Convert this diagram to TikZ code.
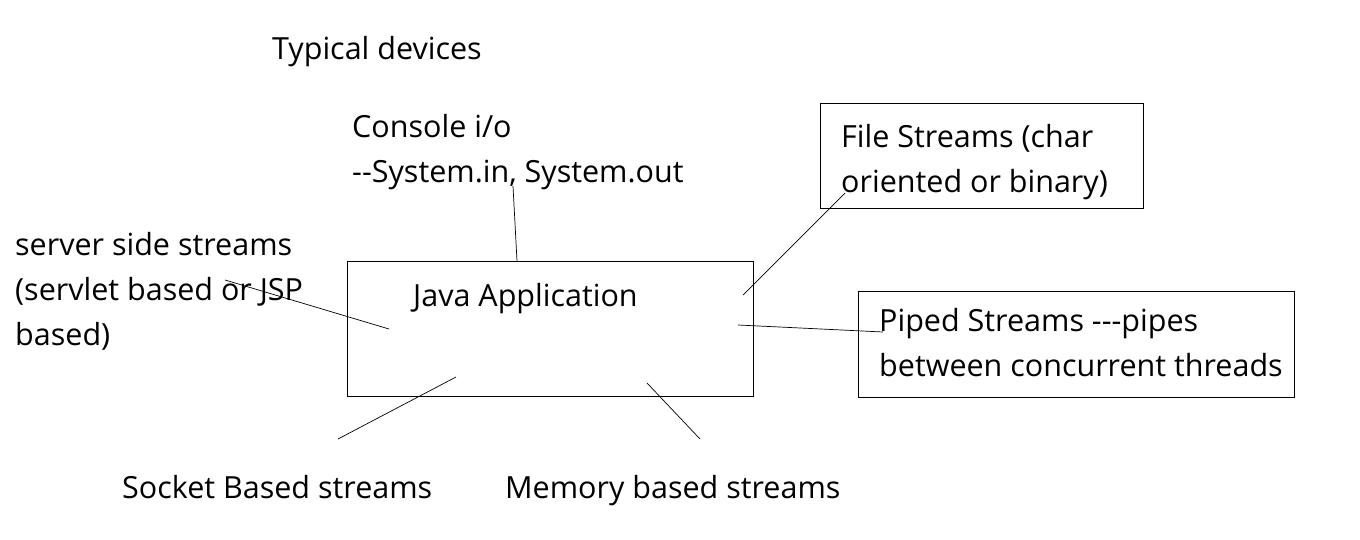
\documentclass[tikz,border=0pt]{standalone}
\usepackage{fontspec}
\setmainfont{Open Sans}[Ligatures=TeXOff]
\begin{document}
\begin{tikzpicture}[x=1pt,y=-1pt,
        box/.style={draw, line width=1pt, anchor=north west, inner sep=0pt},
        txt/.style={anchor=base west, inner sep=0pt, align=left, font=\fontsize{30.5}{45}\selectfont},
        link/.style={line width=0.7pt}]
        \useasboundingbox (0,0) rectangle (1360,540);
        \node[box, minimum width=406pt, minimum height=135pt] (java) at (347,261) {};
        \node[box, minimum width=323pt, minimum height=105pt] (file) at (820,103) {};
        \node[box, minimum width=436pt, minimum height=106pt] (piped) at (858,291) {};
        % base anchor of a multi-line node sits on its last line
        \node[txt] (typical) at (272,60) {Typical devices};
        \node[txt] (console) at (352,183) {Console i/o\\--System.in, System.out};
        \node[txt] (server) at (15,345) {server side streams\\(servlet based or JSP\\based)};
        \node[txt] (javatext) at (413,306) {Java Application};
        \node[txt] (filetext) at (841,193) {File Streams (char\\oriented or binary)};
        \node[txt] (pipedtext) at (879,376) {Piped Streams ---pipes\\between concurrent threads};
        \node[txt] (socket) at (122,498) {Socket Based streams};
        \node[txt] (memory) at (505,498) {Memory based streams};
        \coordinate (conA) at (513,186); \coordinate (conB) at (517,261);
        \coordinate (srvA) at (225,280); \coordinate (srvB) at (389,329);
        \coordinate (sokA) at (338,439); \coordinate (sokB) at (456,377);
        \coordinate (memA) at (647,383); \coordinate (memB) at (700,439);
        \coordinate (filA) at (743,295); \coordinate (filB) at (845,193);
        \coordinate (pipA) at (738,325); \coordinate (pipB) at (883,332);
        \draw[link] (conA) -- (conB);
        \draw[link] (srvA) -- (srvB);
        \draw[link] (sokA) -- (sokB);
        \draw[link] (memA) -- (memB);
        \draw[link] (filA) -- (filB);
        \draw[link] (pipA) -- (pipB);
    \end{tikzpicture}
\end{document}
